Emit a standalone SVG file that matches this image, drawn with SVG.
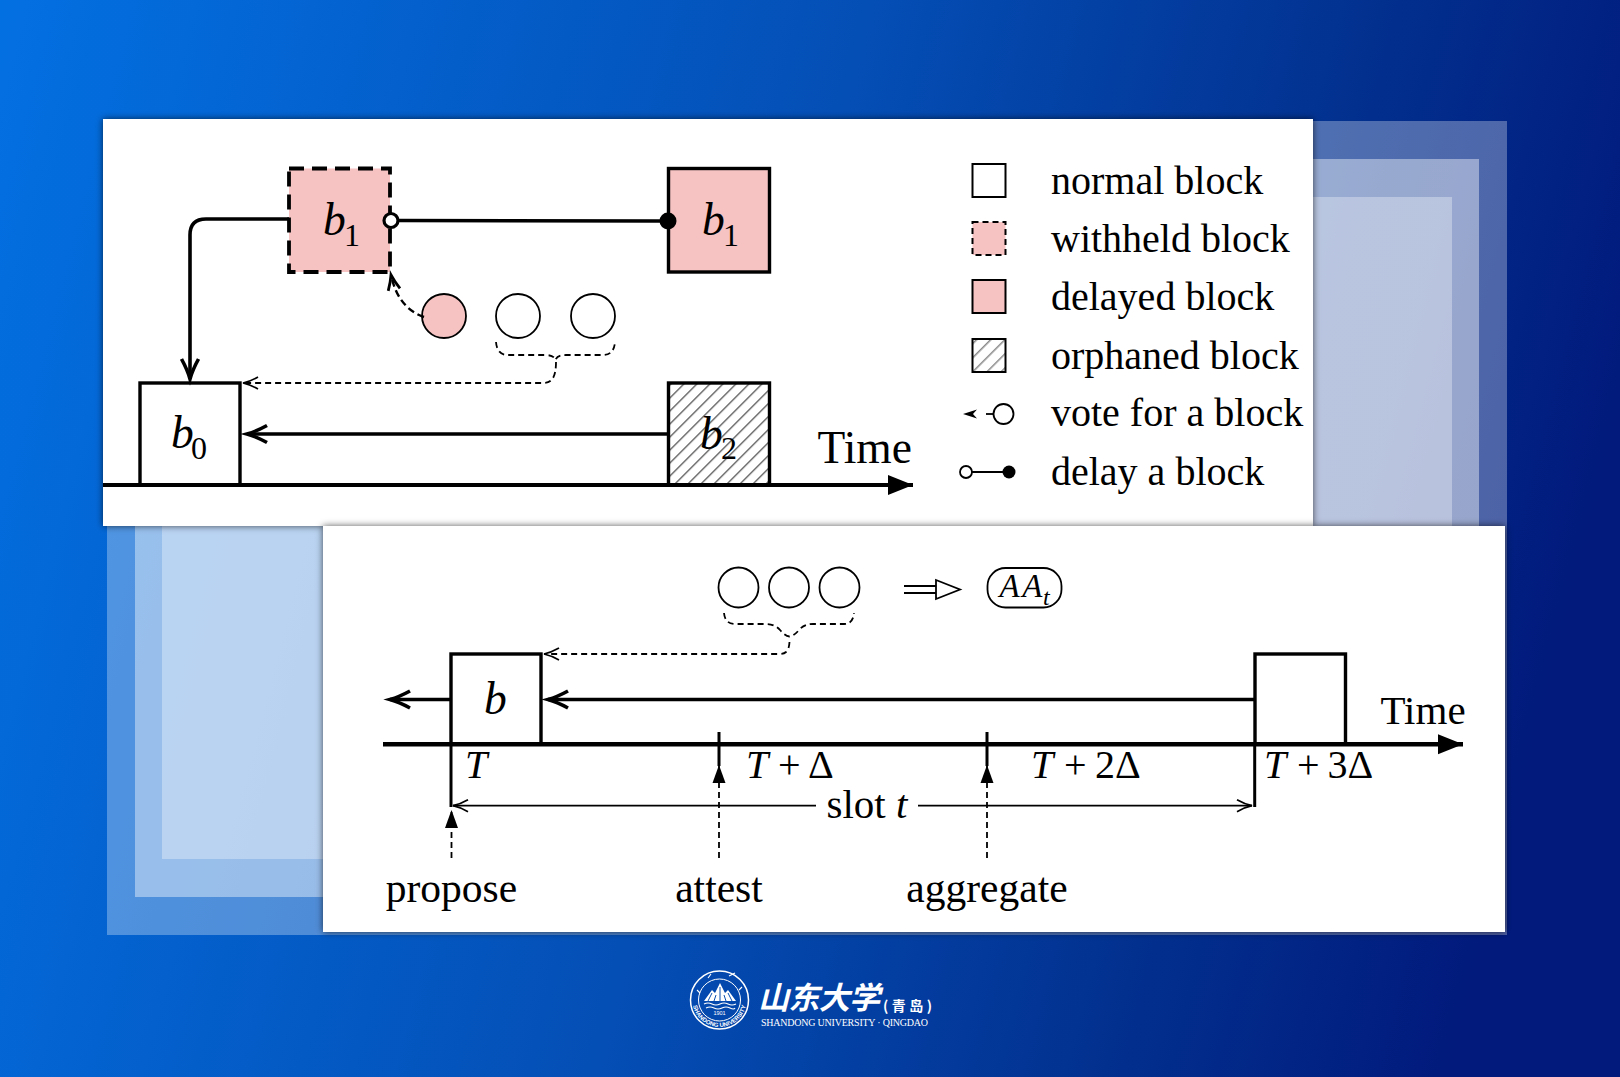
<svg xmlns="http://www.w3.org/2000/svg" xmlns:xlink="http://www.w3.org/1999/xlink" width="1620" height="1077" viewBox="0 0 1620 1077">
<style>
text{font-family:"Liberation Serif","Times New Roman",serif;fill:#000}
.lg{font-size:40px}
.lb{font-size:41.5px}
.v{font-size:45.5px;font-style:italic}
.sub{font-size:32px}
.it{font-style:italic}
.s{fill:none;stroke:#000;stroke-width:3.6}
.ax{fill:none;stroke:#000;stroke-width:4.4}
.thin{fill:none;stroke:#000;stroke-width:1.8}
.d{fill:none;stroke:#000;stroke-width:1.8;stroke-dasharray:6 4}
.box{fill:#fff;stroke:#000;stroke-width:3.4}
.pink{fill:#f6c2c2;stroke:#000;stroke-width:3.4}
.c{fill:#fff;stroke:#000;stroke-width:1.8}
.w{fill:#fff}
.logo{fill:#fff;font-family:"Noto Sans CJK SC",sans-serif}
.logoL{fill:#fff;font-family:"Liberation Sans",Arial,sans-serif}
</style>
<defs>
<linearGradient id="bg" x1="0" y1="0" x2="1620" y2="420" gradientUnits="userSpaceOnUse">
<stop offset="0" stop-color="#0370e2"/><stop offset=".5" stop-color="#044fb6"/><stop offset=".8" stop-color="#02308f"/><stop offset="1" stop-color="#011a7c"/>
</linearGradient>
<filter id="sh" x="-5%" y="-5%" width="110%" height="110%"><feDropShadow dx="0" dy="0" stdDeviation="3.5" flood-color="#000" flood-opacity=".65"/></filter>
<pattern id="hatch" width="9.2" height="9.2" patternUnits="userSpaceOnUse" patternTransform="rotate(45)"><rect width="9.2" height="9.2" fill="#fff"/><line x1="0" y1="0" x2="0" y2="9.2" stroke="#555" stroke-width="2.6"/></pattern>
<pattern id="hatch2" width="10" height="10" patternUnits="userSpaceOnUse" patternTransform="rotate(45)"><rect width="10" height="10" fill="#fff"/><line x1="0" y1="0" x2="0" y2="10" stroke="#888" stroke-width="3"/></pattern>
<marker id="barb" markerUnits="userSpaceOnUse" orient="auto" overflow="visible" markerWidth="30" markerHeight="24" refX="0" refY="0"><path d="M-20,-8.5 Q-9,-2.5 0,0 Q-9,2.5 -20,8.5" fill="none" stroke="#000" stroke-width="3.6"/></marker>
<marker id="barbS" markerUnits="userSpaceOnUse" orient="auto" overflow="visible" markerWidth="20" markerHeight="16" refX="0" refY="0"><path d="M-15,-6 Q-7,-2 0,0 Q-7,2 -15,6" fill="none" stroke="#000" stroke-width="2.8"/></marker>
<marker id="open" markerUnits="userSpaceOnUse" orient="auto" overflow="visible" markerWidth="20" markerHeight="16" refX="0" refY="0"><path d="M-15,-6 Q-7,-1.5 0,0 Q-7,1.5 -15,6" fill="none" stroke="#000" stroke-width="1.7"/></marker>
<marker id="fill" markerUnits="userSpaceOnUse" orient="auto" overflow="visible" markerWidth="24" markerHeight="16" refX="0" refY="0"><path d="M-18,-6.5 L0,0 L-18,6.5 Z" fill="#000"/></marker>
<marker id="axis" markerUnits="userSpaceOnUse" orient="auto" overflow="visible" markerWidth="30" markerHeight="24" refX="0" refY="0"><path d="M-25,-10 L0,0 L-25,10 Z" fill="#000"/></marker>
<path id="arcText" d="M692.5,1000 A27,27 0 0 0 746.5,1000"/>
</defs>

<rect id="background" width="1620" height="1077" fill="url(#bg)"/>
<g id="backdrop" fill="#fff">
<rect x="107" y="121" width="1400" height="814" fill-opacity=".3"/>
<rect x="135" y="159" width="1344" height="738" fill-opacity=".42"/>
<rect x="162" y="197" width="1290" height="662" fill-opacity=".32"/>
</g>
<rect id="panel-top" x="103" y="119" width="1210" height="407" class="w" filter="url(#sh)"/>
<rect id="panel-bottom" x="323" y="526" width="1182" height="406" class="w" filter="url(#sh)"/>

<g id="top-axis-label"><text class="v" style="font-style:normal" x="817.5" y="463">Time</text></g>

<g id="node-b1-withheld">
<rect x="289" y="168.5" width="101" height="103.5" fill="#f6c2c2"/>
<rect x="289" y="168.5" width="101" height="103.5" fill="none" stroke="#000" stroke-width="3.8" stroke-dasharray="15 8"/>
<text class="v" x="323" y="235">b</text><text class="sub" x="344" y="246">1</text>
</g>
<g id="node-b1-delayed">
<rect x="668.5" y="168.5" width="101" height="103.5" class="pink"/>
<text class="v" x="702" y="235">b</text><text class="sub" x="723" y="246">1</text>
</g>
<g id="node-b0">
<rect x="140" y="383" width="100" height="102" class="box"/>
<text class="v" x="171" y="448">b</text><text class="sub" x="191" y="459">0</text>
</g>
<g id="node-b2">
<rect x="668.5" y="383" width="101" height="102" fill="url(#hatch)" stroke="#000" stroke-width="3.4"/>
<text class="v" x="700" y="449">b</text><text class="sub" x="721" y="459">2</text>
</g>
<g id="votes-top">
<circle cx="444" cy="316" r="22" fill="#f6c2c2" stroke="#000" stroke-width="1.8"/>
<circle cx="518" cy="316" r="22" class="c"/>
<circle cx="593" cy="316" r="22" class="c"/>
</g>

<g id="connectors">
<path class="ax" style="stroke-width:4" d="M103,485 H913" marker-end="url(#axis)"/>
<path class="s" d="M289,219 H206 Q190,219 190,235 V379" marker-end="url(#barb)"/>
<path class="s" d="M398,220.5 L660,221"/>
<circle cx="391" cy="220.5" r="7" fill="#fff" stroke="#000" stroke-width="3.2"/>
<circle cx="668" cy="221" r="8.5" fill="#000"/>
<path class="s" d="M668,434 H247" marker-end="url(#barb)"/>
<path class="d" style="stroke-width:2.4;stroke-dasharray:7 4" d="M424,317 Q398,308 391,275" marker-end="url(#barbS)"/>
<path class="d" d="M496,342 Q497,355 508,355 H545 Q554,355 555.5,360 Q557,355 566,355 H603 Q614,355 615,342"/>
<path class="d" d="M556,362 Q556,373 553,378 Q550,383 544,383 H243" marker-end="url(#open)"/>
</g>

<g id="legend">
<g id="legend-normal"><rect x="972.5" y="164" width="33" height="33" fill="#fff" stroke="#000" stroke-width="2"/><text class="lg" x="1051" y="193.5">normal block</text></g>
<g id="legend-withheld"><rect x="972.5" y="222" width="33" height="33" fill="#f6c2c2"/><rect x="972.5" y="222" width="33" height="33" fill="none" stroke="#000" stroke-width="2" stroke-dasharray="6 4"/><text class="lg" x="1051" y="251.5">withheld block</text></g>
<g id="legend-delayed"><rect x="972.5" y="280" width="33" height="33" fill="#f6c2c2" stroke="#000" stroke-width="2"/><text class="lg" x="1051" y="310">delayed block</text></g>
<g id="legend-orphaned"><rect x="972.5" y="339" width="33" height="33" fill="url(#hatch2)" stroke="#000" stroke-width="2"/><text class="lg" x="1051" y="368.5">orphaned block</text></g>
<g id="legend-vote"><path d="M963,414 L977,409.5 L973,414 L977,418.5 Z" fill="#000"/><path d="M986,414 H993" stroke="#000" stroke-width="1.8"/><circle cx="1003.5" cy="414" r="10" fill="#fff" stroke="#000" stroke-width="1.8"/><text class="lg" x="1051" y="426">vote for a block</text></g>
<g id="legend-delay"><path d="M972,472 H1005" stroke="#000" stroke-width="2"/><circle cx="966" cy="472" r="6" fill="#fff" stroke="#000" stroke-width="1.8"/><circle cx="1009" cy="472" r="6.5" fill="#000"/><text class="lg" x="1051" y="484.5">delay a block</text></g>
</g>

<g id="votes-bottom">
<circle cx="738.5" cy="587.5" r="20" class="c"/>
<circle cx="789" cy="587.5" r="20" class="c"/>
<circle cx="839.5" cy="587.5" r="20" class="c"/>
</g>
<g id="node-b">
<rect x="451" y="654" width="90" height="90" class="box"/>
<text class="v" x="484" y="714">b</text>
</g>
<g id="node-next"><rect x="1255" y="654" width="90.5" height="90" class="box"/></g>
<g id="node-aa">
<rect x="987.5" y="568" width="74" height="39.5" rx="18" fill="#fff" stroke="#000" stroke-width="1.8"/>
<text class="it" font-size="33" letter-spacing="2.5" x="999.5" y="597">AA</text><text class="it" font-size="24" x="1043" y="605">t</text>
</g>

<g id="connectors-bottom">
<path class="ax" d="M383,744.3 H1463" marker-end="url(#axis)"/>
<path class="s" d="M1254,699.5 H548" marker-end="url(#barb)"/>
<path class="s" d="M450,699.5 H390" marker-end="url(#barb)"/>
<path class="d" d="M724,613 Q725,624 735,624 H766 Q775,624 780,630 Q785,636 789.5,636.5 Q794,636 799,630 Q804,624 813,624 H844 Q853,624 854,613"/>
<path class="d" d="M789.5,642 Q789,650 786,652 Q784,654 780,654 H544" marker-end="url(#open)"/>
<path class="s" d="M451,744 V807" style="stroke-width:3"/>
<path class="s" d="M1254.7,744 V807" style="stroke-width:3"/>
<path class="s" d="M719,732 V766" style="stroke-width:3"/>
<path class="s" d="M987,732 V766" style="stroke-width:3"/>
<path class="d" d="M451.5,858 V810" marker-end="url(#fill)"/>
<path class="d" d="M719,858 V765" marker-end="url(#fill)"/>
<path class="d" d="M987,858 V765" marker-end="url(#fill)"/>
<path class="thin" d="M816,805.7 H453" marker-end="url(#open)"/>
<path class="thin" d="M918,805.7 H1252" marker-end="url(#open)"/>
<path d="M904,586 H936 M904,593 H936" stroke="#000" stroke-width="1.8"/>
<path d="M936,580 L960,589.5 L936,599 Z" fill="#fff" stroke="#000" stroke-width="1.8"/>
</g>

<g id="bottom-labels">
<text class="lg" x="1380.5" y="724" style="font-size:41px">Time</text>
<text class="lg it" x="465" y="778">T</text>
<text class="lg it" x="746" y="778">T</text><text class="lg" x="778" y="778">+</text><text class="lg" x="808" y="778">Δ</text>
<text class="lg it" x="1031" y="778">T</text><text class="lg" x="1064" y="778">+</text><text class="lg" x="1095" y="778">2</text><text class="lg" x="1115" y="778">Δ</text>
<text class="lg it" x="1264" y="778">T</text><text class="lg" x="1297" y="778">+</text><text class="lg" x="1327.5" y="778">3</text><text class="lg" x="1347.5" y="778">Δ</text>
<text class="lb" x="826.5" y="818" style="font-size:41px">slot <tspan class="it">t</tspan></text>
<text class="lb" x="451.5" y="902" text-anchor="middle">propose</text>
<text class="lb" x="719" y="902" text-anchor="middle">attest</text>
<text class="lb" x="987" y="902" text-anchor="middle">aggregate</text>
</g>

<g id="logo">
<g id="emblem" fill="none" stroke="#fff">
<circle cx="719.5" cy="1000" r="29" stroke-width="1.5"/>
<circle cx="719.5" cy="1000" r="21" stroke-width="1"/>
<path d="M704,1001 L712,990 L715,993 L720,983 L725,993 L728,990 L736,1001 Z" fill="#fff" stroke="none"/>
<path d="M712,993 L708,1001 M720,987 V1003 M716,995 L714,1001 M724,995 L726,1001 M728,993 L732,1001" stroke="#0a4fb0" stroke-width="1"/>
<path d="M704,1004 Q708,1002 712,1004 T720,1004 T728,1004 T736,1004 M706,1008 Q710,1006 714,1008 T722,1008 T730,1008 T735,1008" stroke-width="1.1"/>
<path d="M708,978 L711,974 M729,976 L735,973 M697,990 L700,993 M739,990 L742,987" stroke-width="1.1"/>
</g>
<text x="719.5" y="1015" font-size="5.5" text-anchor="middle" class="logoL">1901</text>
<text font-size="6" font-weight="700" class="logoL"><textPath xlink:href="#arcText" startOffset="50%" text-anchor="middle">SHANDONG UNIVERSITY</textPath></text>
<text class="logo" font-size="31" font-weight="700" font-style="italic" x="758" y="1009" textLength="122">山东大学</text>
<text class="logo" font-size="14" font-weight="700" x="883" y="1011" textLength="49">(青岛)</text>
<text x="761" y="1026" font-size="10" textLength="167" style="fill:#fff">SHANDONG UNIVERSITY · QINGDAO</text>
</g>
</svg>
